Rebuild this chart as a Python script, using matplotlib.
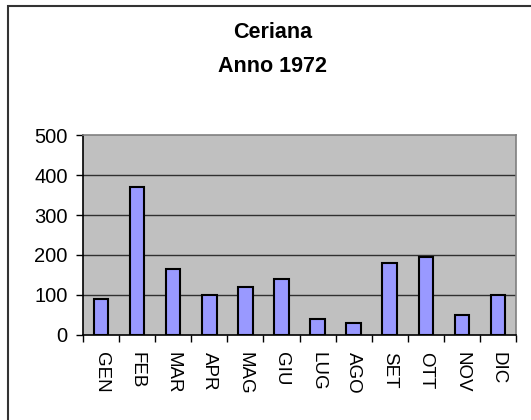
import numpy as np
import matplotlib
matplotlib.use('Agg')
import matplotlib.pyplot as plt
from matplotlib.patches import Rectangle

months = ['GEN', 'FEB', 'MAR', 'APR', 'MAG', 'GIU',
          'LUG', 'AGO', 'SET', 'OTT', 'NOV', 'DIC']
values = [90, 370, 165, 100, 120, 140, 40, 30, 180, 195, 50, 100]
yticks = [0, 100, 200, 300, 400, 500]

plt.rcParams['font.family'] = ['Liberation Sans', 'DejaVu Sans']

W, H = 531, 420
fig = plt.figure(figsize=(W / 100, H / 100), dpi=100)

# outer chart frame (cut at right/bottom edges)
fig.patches.append(Rectangle((8 / W, -0.05), 1.0, 1 - 6.5 / H + 0.05,
                             transform=fig.transFigure, fill=False,
                             edgecolor='#333333', linewidth=1.5))

ax = fig.add_axes([83 / W, 1 - 335 / H, (516 - 83) / W, 200 / H])
ax.set_facecolor('#c0c0c0')

x = np.arange(len(months))
ax.bar(x, values, width=0.4, color='#9999ff', edgecolor='black',
       linewidth=1.5, zorder=3)

ax.set_xlim(-0.5, len(months) - 0.5)
ax.set_ylim(0, 500)
ax.set_yticks(yticks)
ax.set_yticklabels([str(v) for v in yticks], fontsize=14.5)

for v in yticks[1:-1]:
    ax.axhline(v, color='#303030', linewidth=1, zorder=1)

# ticks between categories on x
ax.set_xticks(np.arange(len(months) + 1) - 0.5)
ax.set_xticklabels([])
ax.set_xticks(x, minor=True)
ax.set_xticklabels(months, minor=True, rotation=270, fontsize=13.5)
ax.tick_params(axis='x', which='minor', length=0, pad=12)
ax.tick_params(axis='x', which='major', length=5, width=1, direction='out')
ax.tick_params(axis='y', length=5, width=1, direction='out', pad=6)

for s in ['top', 'right']:
    ax.spines[s].set_color('#808080')
    ax.spines[s].set_linewidth(1.2)
for s in ['left', 'bottom']:
    ax.spines[s].set_color('black')
    ax.spines[s].set_linewidth(1.2)

fig.text(272.5 / W, 1 - 33 / H, 'Ceriana', ha='center', va='center',
         fontsize=15.5, fontweight='bold')
fig.text(272.5 / W, 1 - 66 / H, 'Anno 1972', ha='center', va='center',
         fontsize=15.5, fontweight='bold')

fig.savefig('out.png', dpi=100)
